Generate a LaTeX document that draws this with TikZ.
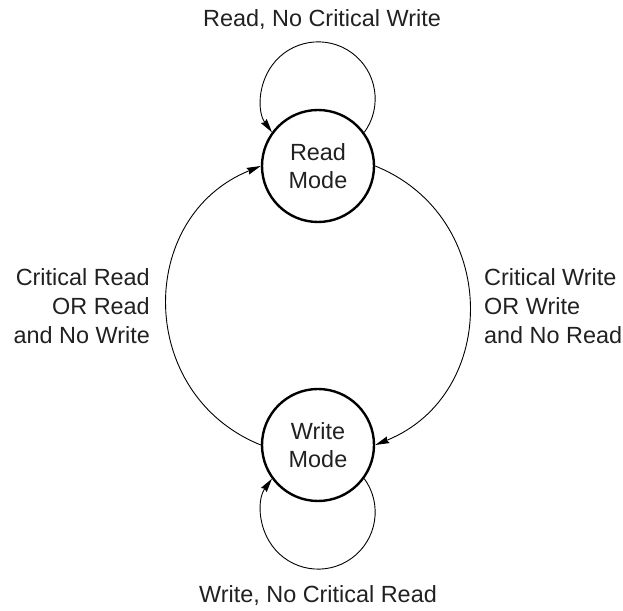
\documentclass[tikz,border=0pt]{standalone}
\usepackage{fontspec}
\setmainfont{Liberation Sans}
\usetikzlibrary{arrows.meta}
\definecolor{inkgray}{gray}{0.13}
\begin{document}
\begin{tikzpicture}[x=1bp,y=1bp,
    font=\fontsize{23.5}{28}\selectfont,
    mode/.style={circle,draw,line width=2.4bp,minimum size=112bp,inner sep=0pt,align=center,text=inkgray},
    trans/.style={line width=0.9bp,-{Stealth[length=14bp,width=7bp,inset=1.5bp]}},
    cond/.style={inner sep=0pt,text=inkgray,font=\fontsize{23.5}{29}\selectfont}]
  \useasboundingbox (0,0) rectangle (623,611);
  % the two modes
  \node[mode] (read) at (318,445) {Read\\Mode};
  \node[mode] (write) at (318,166) {Write\\Mode};
  % changes of mode
  \draw[trans] (read.east) to[out=-22,in=22,looseness=1.24] (write.east);
  \draw[trans] (write.west) to[out=158,in=-158,looseness=1.24] (read.west);
  % staying in a mode
  \draw[trans] (read.36) arc[start angle=-36,end angle=216,radius=57bp];
  \draw[trans] (write.-36) arc[start angle=36,end angle=-216,radius=57bp];
  % conditions
  \node[cond,anchor=base] (stayread) at (322,584) {Read, No Critical Write};
  \node[cond,anchor=base] (staywrite) at (318,8) {Write, No Critical Read};
  \node[cond,anchor=east,align=right] (toread) at (150,304.5) {Critical Read\\OR Read\\and No Write};
  \node[cond,anchor=west,align=left] (towrite) at (484,304.5) {Critical Write\\OR Write\\and No Read};
\end{tikzpicture}
\end{document}
